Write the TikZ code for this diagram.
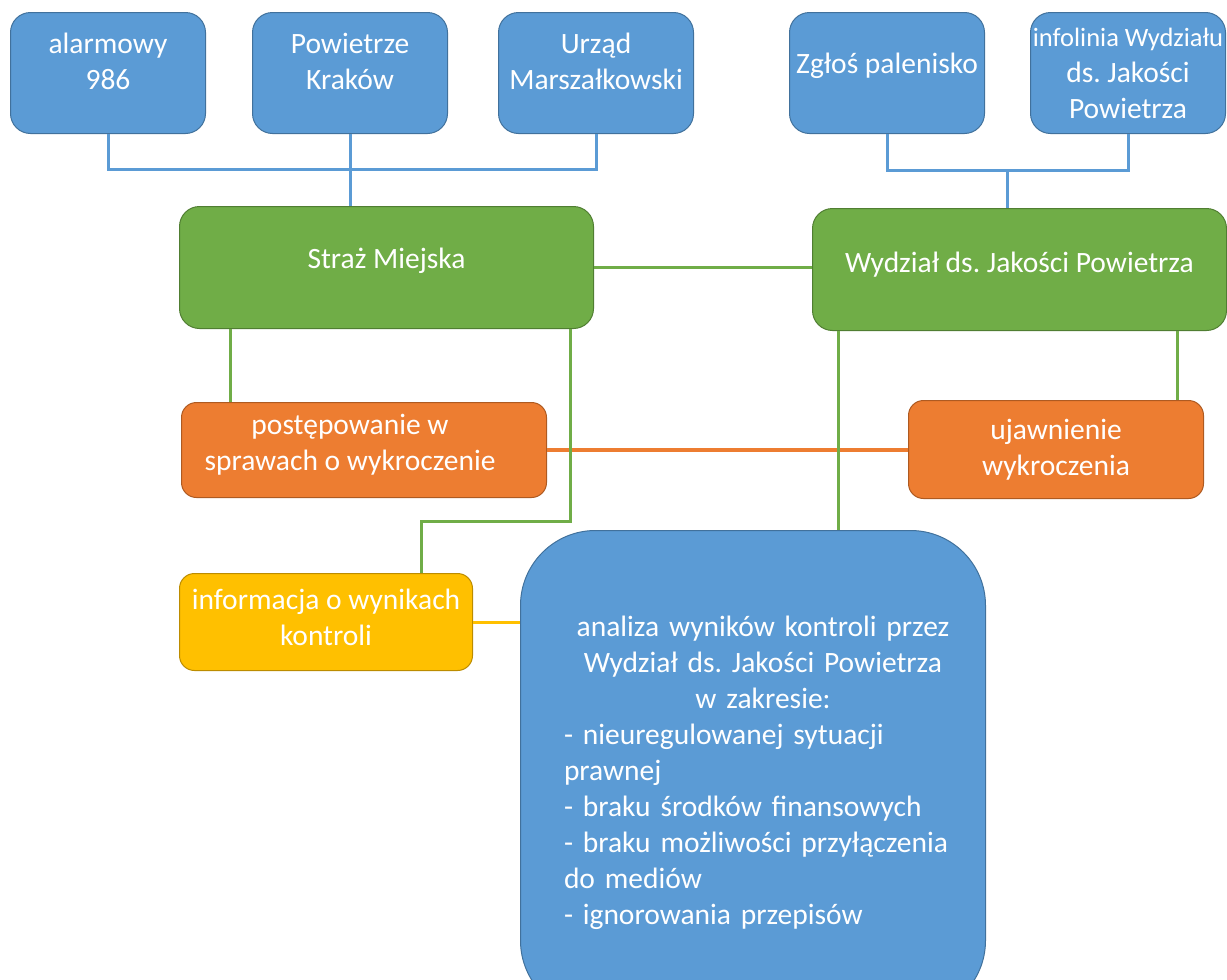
\documentclass[tikz,border=0pt]{standalone}
\usepackage{fontspec}
\setmainfont{Carlito}
\usetikzlibrary{calc}

\definecolor{boxblue}{HTML}{5B9BD5}
\definecolor{boxblueline}{HTML}{41719C}
\definecolor{boxgreen}{HTML}{70AD47}
\definecolor{boxgreenline}{HTML}{507E32}
\definecolor{boxorange}{HTML}{ED7D31}
\definecolor{boxorangeline}{HTML}{AE5A21}
\definecolor{boxyellow}{HTML}{FFC000}
\definecolor{boxyellowline}{HTML}{BC8C00}

\tikzset{
  box/.style={draw, line width=1pt, rounded corners=20pt, inner sep=0pt, anchor=north west,
    align=center, text=white, font=\fontsize{29.5}{36}\selectfont\frenchspacing},
  bluebox/.style={box, fill=boxblue, draw=boxblueline, minimum width=195pt},
  greenbox/.style={box, fill=boxgreen, draw=boxgreenline, minimum width=414pt},
  orangebox/.style={box, fill=boxorange, draw=boxorangeline, rounded corners=15pt},
  yellowbox/.style={box, fill=boxyellow, draw=boxyellowline, rounded corners=15pt},
  blueline/.style={draw=boxblue, line width=3pt},
  greenline/.style={draw=boxgreen, line width=3pt},
  orangeline/.style={draw=boxorange, line width=3.5pt},
  yellowline/.style={draw=boxyellow, line width=3pt}
}

\begin{document}
\begin{tikzpicture}[x=1pt,y=-1pt]
\useasboundingbox (0,0) rectangle (1227,980);
\clip (0,0) rectangle (1227,980);
% Boxes
\node[bluebox, text height=77pt, text depth=44pt] (alarm) at (10,12) {alarmowy\\986};
\node[bluebox, text height=77pt, text depth=44pt] (krakow) at (252,12) {Powietrze\\Kraków};
\node[bluebox, text height=77pt, text depth=44pt] (urzad) at (498,12) {Urząd\\Marszałkowski};
\node[bluebox, text height=61pt, text depth=60pt] (zglos) at (789,12) {Zgłoś palenisko};
\node[bluebox, text height=106pt, text depth=15pt] (infolinia) at (1030,12)
  {\makebox[0pt]{\fontsize{26.5}{36}\selectfont infolinia Wydziału}\\ds. Jakości\\Powietrza};
\node[greenbox, text height=62pt, text depth=60pt] (straz) at (179,206) {Straż Miejska};
\node[greenbox, text height=64pt, text depth=58pt] (wydzial) at (812,208) {Wydział ds. Jakości Powietrza};
\node[orangebox, minimum width=365pt, text height=68pt, text depth=27pt] (postepowanie) at (181,402)
  {postępowanie w\hspace*{28pt}\\sprawach o wykroczenie\hspace*{28pt}};
\node[orangebox, minimum width=295pt, text height=75pt, text depth=23pt] (ujawnienie) at (908,400) {ujawnienie\\wykroczenia};
\node[yellowbox, minimum width=293pt, text height=72pt, text depth=25pt] (informacja) at (179,573) {informacja o wynikach\\kontroli};
\node[bluebox, rounded corners=75pt, minimum width=465pt, text width=418pt, align=left,
  text height=106pt, text depth=379pt] (analiza) at (520,530)
  {{\leftskip=20pt plus 1fil \rightskip=0pt plus 1fil \parfillskip=0pt
    analiza wyników kontroli przez\\Wydział ds. Jakości Powietrza\\w zakresie:\par}
   \leftskip=20pt
   - nieuregulowanej sytuacji\\prawnej\\- braku środków finansowych\\- braku możliwości przyłączenia\\do mediów\\- ignorowania przepisów\par};
%Connections
\coordinate (busL) at (0,169);
\coordinate (busR) at (0,170);
\coordinate (mid) at ($(zglos.south)!.5!(infolinia.south)$);
\draw[blueline] (alarm.south) |- (busL -| urzad.south) -- (urzad.south);
\draw[blueline] (krakow.south) -- (krakow.south |- straz.north);
\draw[blueline] (zglos.south) |- (busR -| infolinia.south) -- (infolinia.south);
\draw[blueline] (mid |- busR) -- (mid |- wydzial.north);
\draw[orangeline] (postepowanie.east) -- (postepowanie.east -| ujawnienie.west);
\draw[yellowline] (informacja.east) -- (informacja.east -| analiza.west);
\coordinate (s1) at ([xshift=51pt]straz.south west);
\coordinate (s2) at ([xshift=-24pt]straz.south east);
\coordinate (k1) at (421,521);
\coordinate (w1) at ([xshift=26pt]wydzial.south west);
\coordinate (w2) at ([xshift=-50pt]wydzial.south east);
\draw[greenline] (straz.east) -- (straz.east -| wydzial.west);
\draw[greenline] (s1) -- (s1 |- postepowanie.north);
\draw[greenline] (s2) |- (k1) -- (k1 |- informacja.north);
\draw[greenline] (w1) -- (w1 |- analiza.north);
\draw[greenline] (w2) -- (w2 |- ujawnienie.north);
\end{tikzpicture}
\end{document}
